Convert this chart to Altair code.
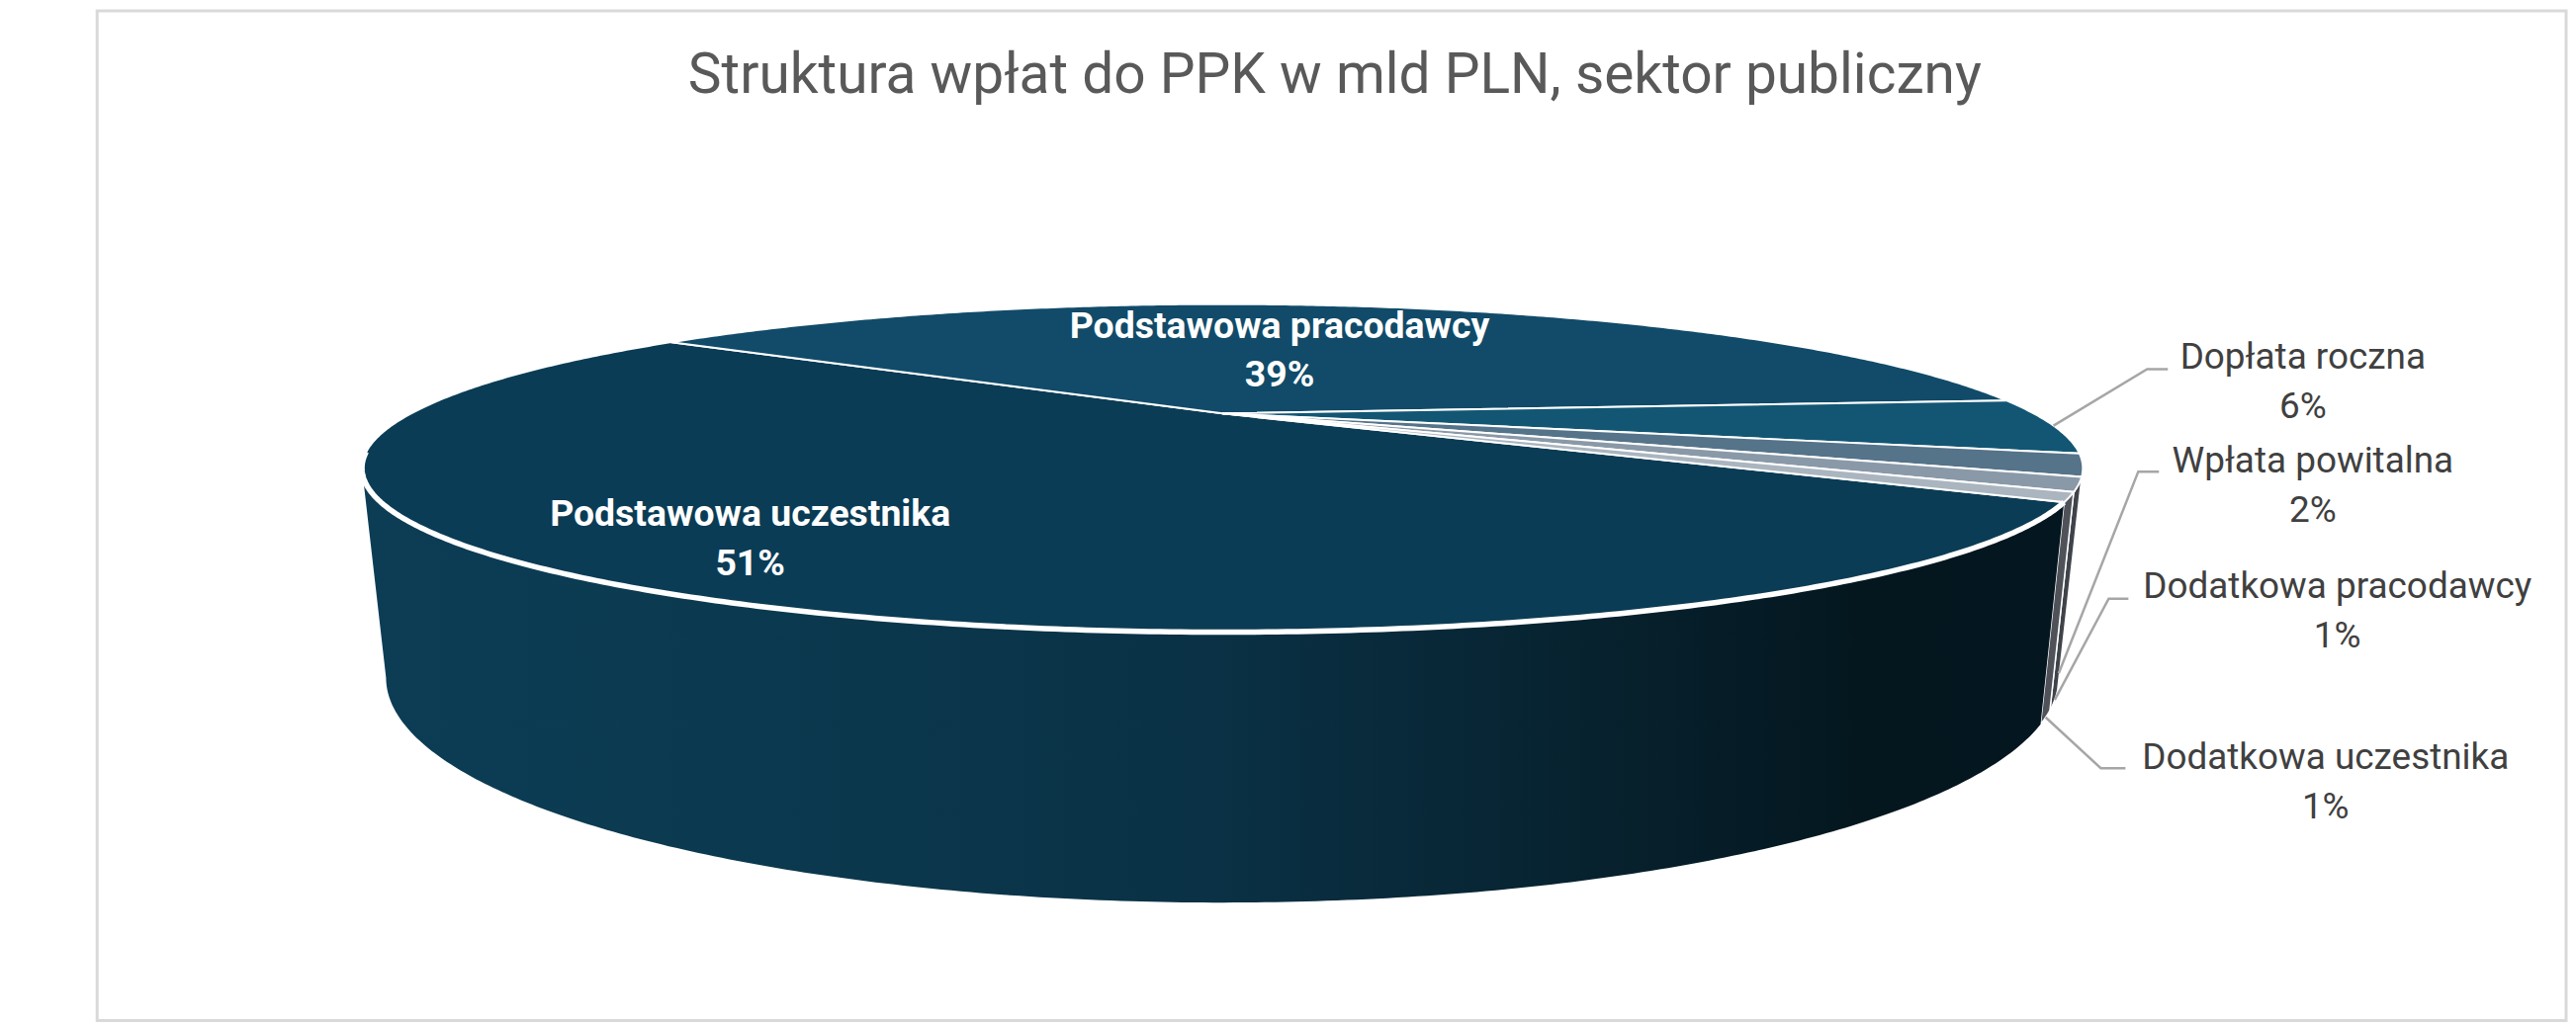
import math
import altair as alt
import pandas as pd

# ---- chart content
TITLE = "Struktura wpłat do PPK w mld PLN, sektor publiczny"
categories = ["Podstawowa uczestnika", "Podstawowa pracodawcy", "Dopłata roczna",
              "Wpłata powitalna", "Dodatkowa pracodawcy", "Dodatkowa uczestnika"]
shares = [51.49, 38.6, 5.51, 2.15, 1.35, 0.9]
top_colors = ["#0b3c55", "#114b69", "#125674", "#557389", "#8a99a8", "#aab5bf"]
wall_colors = ["#0b3c55", "#114b69", "#125674", "#4a4f57", "#3f434a", "#4f5359"]

W, H = 2597, 1028
FIRST_ANGLE = 30.4
K = -0.333
CX = 1240


def top_rim(deg):
    u, v = math.cos(math.radians(deg)), math.sin(math.radians(deg))
    d = 1 + K * v
    return CX + 823 * u / d, 418 + 148 * v / d


def low_rim(deg):
    u, v = math.cos(math.radians(deg)), math.sin(math.radians(deg))
    d = 1 + K * v
    return CX + 800 * u / d, 610 + 203 * v / d


# slice angles derive from the shares
starts, ends = [], []
a = FIRST_ANGLE
for s in shares:
    starts.append(a)
    a += s * 3.6
    ends.append(a)

X = alt.X("x:Q", scale=alt.Scale(domain=[8, 8 + W], nice=False, zero=False), axis=None)
Y = alt.Y("y:Q", scale=alt.Scale(domain=[8 + H, 8], nice=False, zero=False), axis=None)


def arc(fn, a0, a1, step=0.5):
    n = max(2, int(abs(a1 - a0) / step) + 1)
    return [fn(a0 + (a1 - a0) * i / (n - 1)) for i in range(n)]


def path(pts, **mark):
    df = pd.DataFrame({"x": [p[0] for p in pts], "y": [p[1] for p in pts], "i": range(len(pts))})
    return alt.Chart(df).mark_line(clip=False, **mark).encode(x=X, y=Y, order="i:Q")


def wall(a0, a1):
    return arc(top_rim, a0, a1) + arc(low_rim, a1, a0)


layers = []

# frame
frame = pd.DataFrame({"x": [98.5], "x2": [2603], "y": [9.5], "y2": [1034]})
layers.append(alt.Chart(frame).mark_rect(filled=False, stroke="#d9d9d9", strokeWidth=3).encode(
    x=X, x2="x2:Q", y=Y, y2="y2:Q"))

SIL = 160.5
wall_grad = alt.Gradient(
    gradient="linear", x1=0, x2=1, y1=0, y2=0,
    stops=[alt.GradientStop(offset=0, color="#0c3d55"),
           alt.GradientStop(offset=0.2, color="#0b3a50"),
           alt.GradientStop(offset=0.5, color="#0a3145"),
           alt.GradientStop(offset=0.72, color="#07222f"),
           alt.GradientStop(offset=0.88, color="#04171f"),
           alt.GradientStop(offset=1, color="#04161f")])

# right-hand thin side faces, back to front
for i in (3, 4, 5):
    a0 = max(starts[i] - 360, 19.5)
    pts = wall(a0, ends[i] - 360)
    layers.append(path(pts + pts[:1], fill=wall_colors[i], stroke="white", strokeWidth=1.5))

# main side face
pts = wall(FIRST_ANGLE, SIL)
layers.append(path(pts + pts[:1], fill=wall_grad, strokeWidth=0, stroke="transparent"))

# top face
apex = (CX, 418)
for i in [0, 1, 2, 3, 4, 5]:
    pts = [apex] + arc(top_rim, starts[i], ends[i]) + [apex]
    layers.append(path(pts, fill=top_colors[i], stroke="white", strokeWidth=2))

# white front rim
layers.append(path(arc(top_rim, FIRST_ANGLE, 166), stroke="white", strokeWidth=5.5))

# leader lines
leader_start = [top_rim((starts[2] + ends[2]) / 2)] + [low_rim((starts[i] + ends[i]) / 2 - 360) for i in (3, 4, 5)]
leader_knee_x = [2178, 2169, 2139, 2131]
leader_knee_y = [373, 477, 606, 778]
leader_end_x = [2199, 2190, 2159, 2156]
for st, kx, ky, ex in zip(leader_start, leader_knee_x, leader_knee_y, leader_end_x):
    layers.append(path([st, (kx, ky), (ex, ky)], stroke="#a6a6a6", strokeWidth=2.5))

# labels
pct = [f"{math.floor(s + 0.5)}%" for s in shares]
label_x = [761, 1298, 2336, 2346, 2371, 2359]
label_y = [521, 330, 362, 467, 594, 768]
LINE = 50
rows = []
for c, p, lx, ly in zip(categories, pct, label_x, label_y):
    rows.append({"t": c, "x": lx, "y": ly, "white": c.startswith("Podstawowa")})
    rows.append({"t": p, "x": lx, "y": ly + LINE, "white": c.startswith("Podstawowa")})
lab = pd.DataFrame(rows)
FONT = "Roboto"
layers.append(alt.Chart(lab[~lab.white]).mark_text(
    font=FONT, fontSize=37, color="#404040", align="center", baseline="middle").encode(x=X, y=Y, text="t:N"))
layers.append(alt.Chart(lab[lab.white]).mark_text(
    font=FONT, fontSize=37.5, fontWeight="bold", color="white", align="center", baseline="middle").encode(x=X, y=Y, text="t:N"))
layers.append(alt.Chart(pd.DataFrame({"t": [TITLE], "x": [1354], "y": [76]})).mark_text(
    font=FONT, fontSize=57, color="#595959", align="center", baseline="middle").encode(x=X, y=Y, text="t:N"))

chart = alt.layer(*layers).properties(
    width=W, height=H, padding=0, autosize=alt.AutoSizeParams(type="none"), background="white"
).configure_view(stroke=None)

chart.save("out.html", embed_options={"renderer": "svg", "actions": False})
